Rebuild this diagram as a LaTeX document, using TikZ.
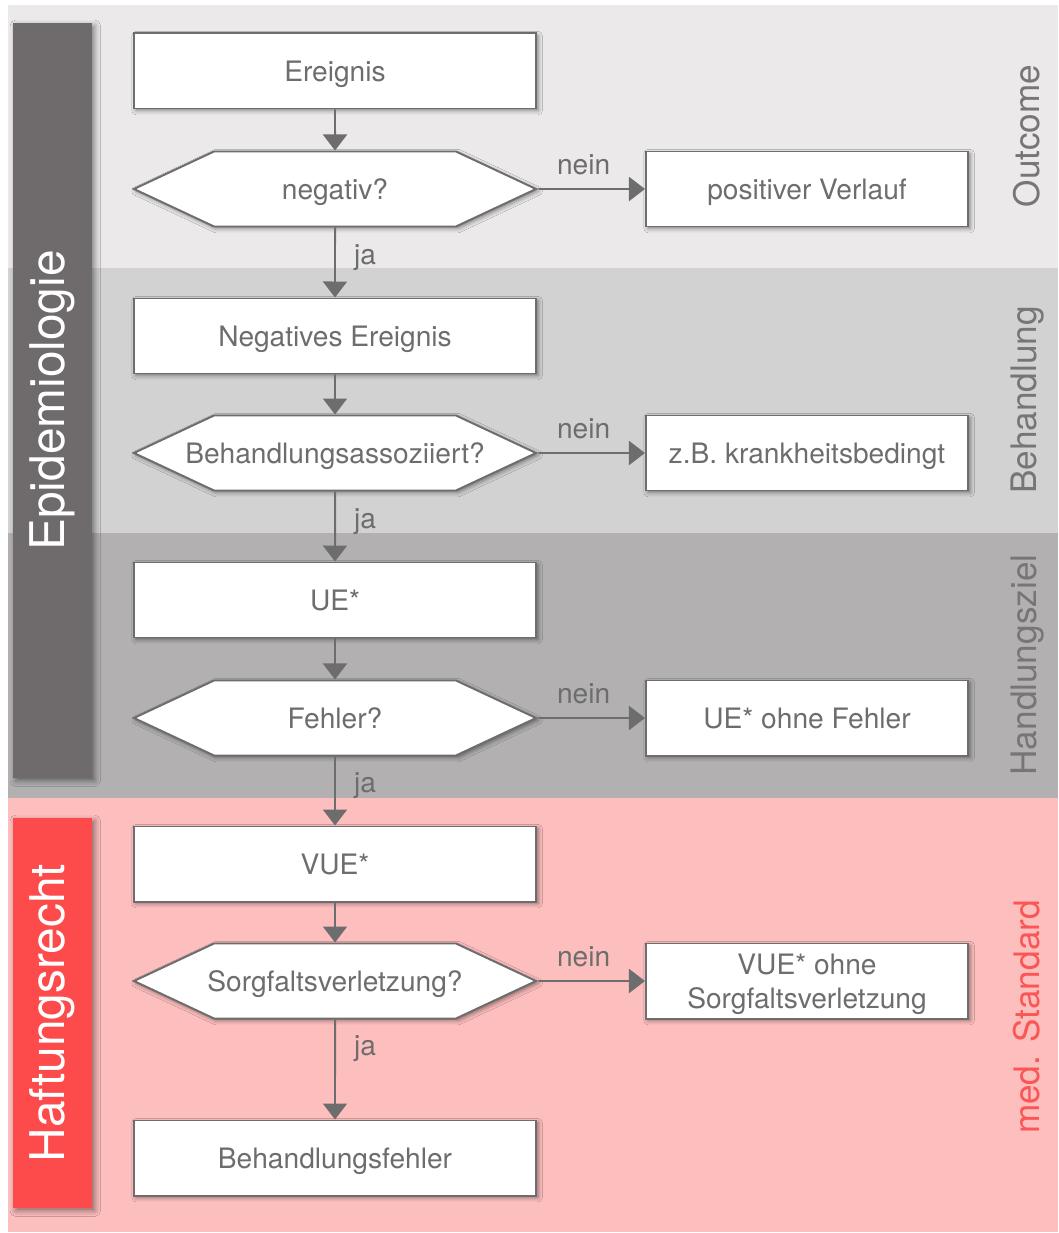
\documentclass[tikz,border=0pt]{standalone}
\usepackage{fontspec}
\setmainfont{TeX Gyre Heros}
\usetikzlibrary{shapes.symbols, arrows.meta, shadows.blur}
\definecolor{laneA}{HTML}{EBE9EA}
\definecolor{laneB}{HTML}{D2D2D2}
\definecolor{laneC}{HTML}{B2B0B1}
\definecolor{laneD}{HTML}{FDBEBE}
\definecolor{bargray}{HTML}{6F6B6C}
\definecolor{barred}{HTML}{FD4B4B}
\definecolor{txtgray}{HTML}{6D6D6D}
\definecolor{sidegray}{HTML}{767676}
\definecolor{sidered}{HTML}{FA5656}
\newcommand{\Ja}{ja}
\newcommand{\Nein}{nein}

\begin{document}
\begin{tikzpicture}[x=0.025cm, y=-0.025cm,
  >={Triangle[length=0.4cm, width=0.6cm]},
  arr/.style={->, draw=txtgray, line width=1.4pt},
  lbl/.style={text=txtgray, font=\fontsize{20}{24}\selectfont},
  nein/.style={lbl, above=6pt, xshift=-0.2cm},
  ja/.style={lbl, right=9.5pt, yshift=3.5pt},
  box/.style={draw=txtgray, line width=1.4pt, fill=white, text=txtgray,
    minimum width=10.05cm, minimum height=1.875cm, align=center,
    text depth=0pt, font=\fontsize{20}{24}\selectfont,
    blur shadow={shadow xshift=1.5pt, shadow yshift=-1.5pt, shadow blur radius=3pt, shadow opacity=45}},
  hexa/.style={box, shape=signal, signal to=west and east, signal pointer angle=50.2,
    inner xsep=-2.5cm},
  res/.style={box, minimum width=8.05cm},
  bar/.style={rotate=90, minimum height=1.975cm, inner sep=0pt, text=white,
    font=\fontsize{34}{40}\selectfont,
    blur shadow={shadow xshift=2pt, shadow yshift=-2pt, shadow blur radius=4pt, shadow opacity=45}},
  side/.style={rotate=90, font=\fontsize{25}{30}\selectfont}]
  \useasboundingbox (0,0) rectangle (1058,1233);

  % lanes
  \fill[laneA] (8,5)   rectangle (1058,268);
  \fill[laneB] (8,268) rectangle (1058,533);
  \fill[laneC] (8,533) rectangle (1058,798);
  \fill[laneD] (8,798) rectangle (1058,1232);

  % bars on the left
  \node[bar, fill=bargray, minimum width=18.875cm] (epi) at (52.5,400.5) {Epidemiologie};
  \node[bar, fill=barred,  minimum width=9.75cm]   (haf) at (52.5,1013)  {Haftungsrecht};

  % labels on the right
  \node[side, text=sidegray] (out) at (1027,136)  {Outcome};
  \node[side, text=sidegray] (beh) at (1027,400)  {Behandlung};
  \node[side, text=sidegray] (hdz) at (1027,665)  {Handlungsziel};
  \node[side, text=sidered]  (med) at (1027,1017) {med. Standard};

  % main column
  \node[box]  (e1) at (335,71)   {Ereignis};
  \node[hexa] (q1) at (335,189)  {negativ?};
  \node[res]  (r1) at (807,189)  {positiver Verlauf};
  \node[box]  (e2) at (335,336)  {Negatives Ereignis};
  \node[hexa] (q2) at (335,453)  {Behandlungsassoziiert?};
  \node[res]  (r2) at (807,453)  {z.B. krankheitsbedingt};
  \node[box]  (e3) at (335,600)  {UE*};
  \node[hexa] (q3) at (335,718)  {Fehler?};
  \node[res]  (r3) at (807,718)  {UE* ohne Fehler};
  \node[box]  (e4) at (335,864)  {VUE*};
  \node[hexa] (q4) at (335,981)  {Sorgfaltsverletzung?};
  \node[res]  (r4) at (807,981)  {VUE* ohne\\Sorgfaltsverletzung};
  \node[box]  (e5) at (335,1158) {Behandlungsfehler};

  \draw[arr] (e1) -- (q1);
  \draw[arr] (q1) -- node[nein]{\Nein} (r1);
  \draw[arr] (q1) -- node[ja]{\Ja} (e2);
  \draw[arr] (e2) -- (q2);
  \draw[arr] (q2) -- node[nein]{\Nein} (r2);
  \draw[arr] (q2) -- node[ja]{\Ja} (e3);
  \draw[arr] (e3) -- (q3);
  \draw[arr] (q3) -- node[nein]{\Nein} (r3);
  \draw[arr] (q3) -- node[ja]{\Ja} (e4);
  \draw[arr] (e4) -- (q4);
  \draw[arr] (q4) -- node[nein]{\Nein} (r4);
  \draw[arr] (q4) -- node[ja, pos=0.34]{\Ja} (e5);
\end{tikzpicture}
\end{document}
